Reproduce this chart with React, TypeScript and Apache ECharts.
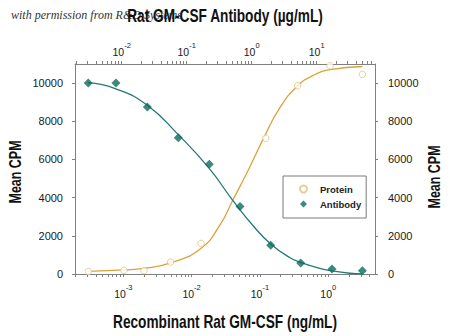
import React, { useEffect, useRef } from "react";
import * as echarts from "echarts";

// Recombinant Rat GM-CSF (ng/mL) — protein points
const proteinConc = [0.000308, 0.00102, 0.00201, 0.00494, 0.01374, 0.1216, 0.357, 1.062, 3.155];
const proteinCPM = [136, 188, 172, 627, 1600, 7109, 9859, 10904, 10455];
// fitted curve
const proteinCurveConc = [0.000309, 0.00102, 0.002, 0.0049, 0.0138, 0.0263, 0.0398, 0.0676, 0.12, 0.195, 0.355, 0.603, 1.07, 3.16];
const proteinCurveCPM = [136, 215, 290, 580, 1350, 2600, 3850, 5450, 7300, 8700, 9850, 10400, 10700, 10870];

// Rat GM-CSF Antibody (µg/mL)
const antibodyConc = [0.00306, 0.00817, 0.0248, 0.0743, 0.223, 0.661, 1.96, 5.68, 17.2, 50.4];
const antibodyCPM = [10000, 10000, 8750, 7140, 5750, 3530, 1500, 575, 260, 170];
const antibodyCurveConc = [0.00302, 0.00813, 0.0245, 0.0741, 0.219, 0.501, 1.12, 2.0, 3.89, 5.75, 11.2, 17.4, 32.4, 50.1];
const antibodyCurveCPM = [10020, 9700, 8850, 7300, 5560, 3900, 2420, 1550, 850, 600, 290, 160, 40, 0];

const yTicks = [0, 2000, 4000, 6000, 8000, 10000];
const bottomDecades = [-3, -2, -1, 0];
const topDecades = [-2, -1, 0, 1];

const FONT = "'Liberation Sans', Arial, sans-serif";

function minorTicks(min: number, max: number): number[] {
  const out: number[] = [];
  for (let d = Math.floor(min) - 1; d <= Math.ceil(max); d++) {
    for (let m = 1; m <= 9; m++) {
      const v = d + Math.log10(m);
      if (v >= min - 1e-9 && v <= max + 1e-9) out.push(v);
    }
  }
  return out;
}

const toPts = (xs: number[], ys: number[]) => xs.map((x, i) => [Math.log10(x), ys[i]]);

export default function App() {
  const ref = useRef<HTMLDivElement>(null);
  useEffect(() => {
    if (!ref.current) return;
    const chart = echarts.init(ref.current, null, { renderer: "svg" });
    const bMin = -3.707, bMax = 0.684;
    const tMin = -2.718, tMax = 1.897;
    const supRich = {
      b: { fontFamily: FONT, fontSize: 10.5, color: "#1a1a1a", lineHeight: 16, verticalAlign: "bottom" },
      s: { fontFamily: FONT, fontSize: 7.5, color: "#1a1a1a", lineHeight: 16, verticalAlign: "top", padding: [0, 0, 4, 0] },
    };
    const supFmt = (v: number) => `{b|10}{s|${Math.round(v)}}`;
    const axisLineStyle = { color: "#808080", width: 1 };
    const titleStyle = (t: string, size: number) => ({
      text: t,
      x: 0,
      y: 0,
      align: "center",
      verticalAlign: "middle",
      font: `bold ${size}px ${FONT}`,
      fill: "#111",
    });
    chart.setOption({
      animation: false,
      grid: { left: 75, right: 75, top: 64, bottom: 62 },
      graphic: [
        {
          type: "text",
          left: 11,
          top: 9,
          z: 0,
          style: { text: "with permission from R&D Systems", font: "italic 12px 'Liberation Serif', serif", fill: "#333" },
        },
        { type: "text", x: 225, y: 16, scaleX: 0.76, z: 10, style: titleStyle("Rat GM-CSF Antibody (µg/mL)", 18) },
        { type: "text", x: 225, y: 322, scaleX: 0.76, z: 10, style: titleStyle("Recombinant Rat GM-CSF (ng/mL)", 18) },
        { type: "text", x: 15, y: 172, rotation: Math.PI / 2, scaleX: 0.78, z: 10, style: titleStyle("Mean CPM", 16) },
        { type: "text", x: 434, y: 177, rotation: Math.PI / 2, scaleX: 0.78, z: 10, style: titleStyle("Mean CPM", 16) },
      ],
      legend: {
        data: ["Protein", "Antibody"],
        orient: "vertical",
        left: 283,
        top: 176,
        padding: [7, 5, 8, 16],
        itemGap: 3,
        itemWidth: 7,
        itemHeight: 7,
        borderColor: "#7a7a7a",
        borderWidth: 1,
        borderRadius: 0,
        backgroundColor: "#fff",
        textStyle: { fontFamily: FONT, fontSize: 9.5, fontWeight: "bold", color: "#222", lineHeight: 12, padding: [0, 0, 0, 8] },
      },
      xAxis: [
        {
          type: "value",
          position: "bottom",
          min: bMin,
          max: bMax,
          axisLine: { onZero: false, lineStyle: axisLineStyle },
          axisTick: { show: true, length: 3, customValues: minorTicks(bMin, bMax), lineStyle: axisLineStyle },
          axisLabel: { customValues: bottomDecades, margin: 9, formatter: supFmt, rich: supRich },
          splitLine: { show: false },
        },
        {
          type: "value",
          position: "top",
          min: tMin,
          max: tMax,
          axisLine: { onZero: false, lineStyle: axisLineStyle },
          axisTick: { show: true, length: 3, customValues: minorTicks(tMin, tMax), lineStyle: axisLineStyle },
          axisLabel: { customValues: topDecades, margin: 7, formatter: supFmt, rich: supRich },
          splitLine: { show: false },
        },
      ],
      yAxis: [
        {
          type: "value",
          position: "left",
          min: 0,
          max: 11000,
          axisLine: { show: true, onZero: false, lineStyle: axisLineStyle },
          axisTick: { show: true, length: 3, customValues: yTicks, lineStyle: axisLineStyle },
          axisLabel: { customValues: yTicks, margin: 12, fontFamily: FONT, fontSize: 11, color: "#1a1a1a", formatter: (v: number) => String(v) },
          splitLine: { show: false },
        },
        {
          type: "value",
          position: "right",
          min: 0,
          max: 11000,
          axisLine: { show: true, onZero: false, lineStyle: axisLineStyle },
          axisTick: { show: true, length: 3, customValues: yTicks, lineStyle: axisLineStyle },
          axisLabel: { customValues: yTicks, margin: 13, fontFamily: FONT, fontSize: 11, color: "#1a1a1a", formatter: (v: number) => String(v) },
          splitLine: { show: false },
        },
      ],
      series: [
        {
          name: "Protein fit",
          type: "line",
          xAxisIndex: 0,
          yAxisIndex: 0,
          data: toPts(proteinCurveConc, proteinCurveCPM),
          smooth: 0.5,
          showSymbol: false,
          lineStyle: { color: "#dba23a", width: 1.3 },
          silent: true,
          z: 2,
        },
        {
          name: "Antibody fit",
          type: "line",
          xAxisIndex: 1,
          yAxisIndex: 0,
          data: toPts(antibodyCurveConc, antibodyCurveCPM),
          smooth: 0.5,
          showSymbol: false,
          lineStyle: { color: "#237a72", width: 1.3 },
          silent: true,
          z: 2,
        },
        {
          name: "Protein",
          type: "scatter",
          xAxisIndex: 0,
          yAxisIndex: 0,
          data: toPts(proteinConc, proteinCPM),
          symbol: "circle",
          symbolSize: 6.5,
          itemStyle: { color: "#fff", borderColor: "#e6c27c", borderWidth: 1 },
          z: 3,
        },
        {
          name: "Antibody",
          type: "scatter",
          xAxisIndex: 1,
          yAxisIndex: 0,
          data: toPts(antibodyConc, antibodyCPM),
          symbol: "diamond",
          symbolSize: 9,
          itemStyle: { color: "#0b6b5c" },
          z: 4,
        },
      ],
    });
    return () => chart.dispose();
  }, []);
  return <div ref={ref} style={{ position: "absolute", left: 0, top: 0, width: 450, height: 336 }} />;
}
